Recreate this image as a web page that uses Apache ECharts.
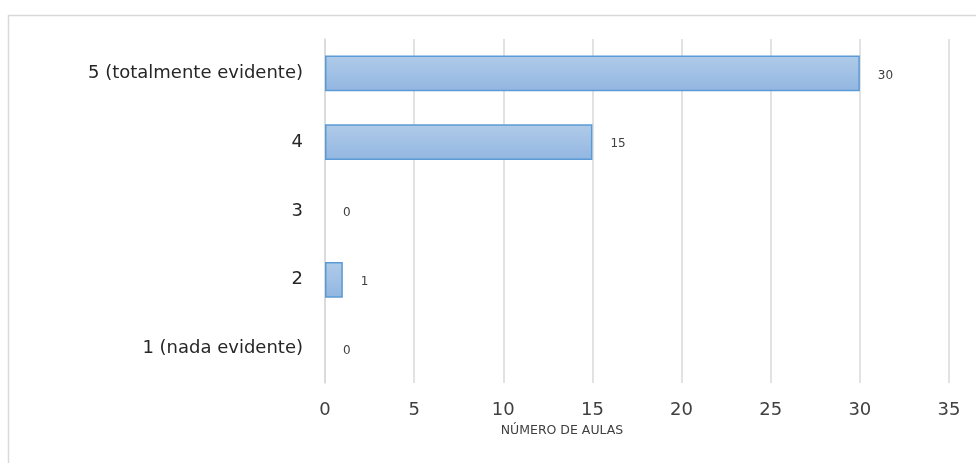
<!DOCTYPE html>
<html><head><meta charset="utf-8">
<script src="https://cdn.jsdelivr.net/npm/echarts@6/dist/echarts.min.js"></script>
<style>html,body{margin:0;padding:0;background:#fff}#c{width:976px;height:463px}</style>
</head><body><div id="c"></div>
<script>
const categories = ['1 (nada evidente)', '2', '3', '4', '5 (totalmente evidente)'];
const values = [0, 1, 0, 15, 30];
const axisName = 'NÚMERO DE AULAS';
const FONT = '"DejaVu Sans", sans-serif';
const chart = echarts.init(document.getElementById('c'));
chart.setOption({
  animation: false,
  graphic: [{type:'rect', shape:{x:8.5,y:15.5,width:1000,height:500}, style:{fill:'none', stroke:'#d9d9d9', lineWidth:1.5}, silent:true}],
  grid: {left:325, right:27, top:39, bottom:80},
  xAxis: {
    type:'value', min:0, max:35, interval:5,
    name: axisName, nameLocation:'middle', nameGap:40,
    nameTextStyle:{fontFamily:FONT, fontSize:12.5, color:'#404040', padding:[0,150,0,0]},
    axisLabel:{fontFamily:FONT, fontSize:18, color:'#404040', margin:18},
    axisLine:{show:false}, axisTick:{show:false},
    splitLine:{lineStyle:{color:'#d9d9d9', width:1.5}}
  },
  yAxis: {
    type:'category', data:categories,
    axisLabel:{fontFamily:FONT, fontSize:18, color:'#262626', margin:22},
    axisLine:{lineStyle:{color:'#d9d9d9', width:1.5}}, axisTick:{show:false}
  },
  series: [{
    type:'bar',
    data: values.map(v => v === 0 ? {value:v, itemStyle:{borderWidth:0}} : v),
    barCategoryGap:'48%',
    itemStyle:{
      color:new echarts.graphic.LinearGradient(0,0,0,1,[{offset:0,color:'#b0cbe9'},{offset:1,color:'#92b6e1'}]),
      borderColor:'#5b9bd5', borderWidth:1.5
    },
    label:{show:true, position:'right', distance:18, offset:[0,2], fontFamily:FONT, fontSize:12, color:'#404040'}
  }]
});
</script></body></html>
